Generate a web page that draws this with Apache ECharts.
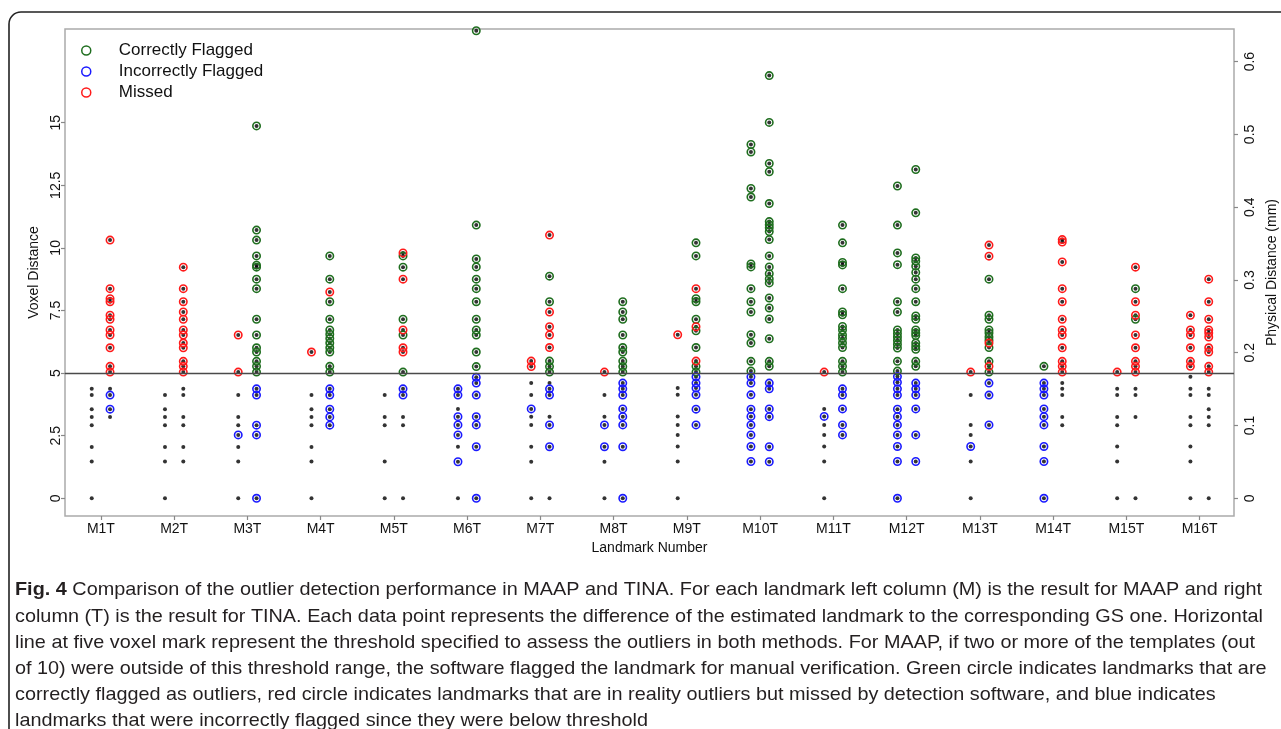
<!DOCTYPE html>
<html><head><meta charset="utf-8">
<script src="https://cdn.jsdelivr.net/npm/echarts@6/dist/echarts.min.js"></script>
<style>html,body{margin:0;padding:0;background:#fff}#c{width:1281px;height:729px}</style>
</head><body><div id="c"></div><script>
// ---- categories / ticks ----
const categories = ['M1T','M2T','M3T','M4T','M5T','M6T','M7T','M8T','M9T','M10T','M11T','M12T','M13T','M14T','M15T','M16T'];
const voxelTicks = [0, 2.5, 5, 7.5, 10, 12.5, 15];
const mmTicks = [0, 0.1, 0.2, 0.3, 0.4, 0.5, 0.6];
const threshold = 5;
const mmPerVoxel = 0.03441;

// ---- MAAP (left column, M) values per landmark ----
const notFlaggedM = [
  [4.37,4.12,3.56,3.25,2.92,2.05,1.47,0],
  [4.12,3.56,3.25,2.92,2.05,1.47,0],
  [4.12,3.25,2.92,2.05,1.47,0],
  [4.12,3.56,3.25,2.92,2.05,1.47,0],
  [4.12,3.25,2.92,1.47,0],
  [3.57,2.06,0],
  [4.6,4.12,3.26,2.93,2.06,1.46,0],
  [4.12,3.26,1.46,0],
  [4.4,4.13,3.27,2.93,2.53,2.07,1.47,0],
  [],
  [3.57,2.93,2.53,2.07,1.47,0],
  [],
  [4.12,2.93,2.53,1.47,0],
  [],
  [4.37,4.12,3.25,2.92,2.07,1.47,0],
  [4.85,4.37,4.12,3.25,2.92,2.07,1.47,0]
];
const correctM = [
  [],[],[],[],[],[],[],[],[],
  [14.13,13.83,12.37,12.03,9.36,9.24,8.37,7.85,7.44,6.53,6.2,5.47,5.08],
  [],
  [12.47,10.91,9.8,9.33,7.85,7.44,6.72,6.58,6.44,6.3,6.15,6.0,5.47,5.08],
  [],
  [5.27],
  [],[]
];
const incorrectM = [
  [],[],
  [2.53],
  [],[],
  [4.37,4.12,3.26,2.93,2.53,1.46],
  [3.57],
  [2.93,2.06],
  [],
  [4.85,4.6,4.13,3.56,3.27,2.93,2.53,2.07,1.47],
  [3.27],
  [4.86,4.63,4.37,4.12,3.56,3.26,2.93,2.53,2.07,1.47,0],
  [2.07],
  [4.6,4.37,4.12,3.57,3.26,2.93,2.07,1.47,0],
  [],[]
];
const missedM = [
  [],[],
  [6.52,5.04],
  [5.84],
  [],[],
  [5.48,5.26],
  [5.04],
  [6.53],
  [],
  [5.04],
  [],
  [5.04],
  [],
  [5.04],
  [7.31,6.72,6.52,6.01,5.47,5.27]
];

// ---- TINA (right column, T) values per landmark ----
const notFlaggedT = [
  [4.37,3.25],
  [4.37,4.12,3.25,2.92,2.05,1.47],
  [],
  [],
  [3.25,2.92,0],
  [],
  [4.6,3.26,0],
  [],
  [],
  [],
  [],
  [],
  [],
  [4.6,4.37,4.12,3.25,2.92],
  [4.37,4.12,3.25,0],
  [4.37,4.12,3.56,3.25,2.92,0]
];
const correctT = [
  [],[],
  [14.87,10.71,10.31,9.68,9.31,9.23,8.75,8.37,7.15,6.52,6.01,5.84,5.47,5.27,5.04],
  [9.68,8.75,7.85,7.15,6.72,6.55,6.38,6.2,6.01,5.84,5.27,5.04],
  [9.68,9.23,7.15,6.52,5.04],
  [18.67,10.91,9.56,9.24,8.75,8.37,7.85,7.15,6.72,6.52,5.84,5.26],
  [8.87,7.85,5.48,5.26,5.04],
  [7.85,7.44,7.15,6.52,6.02,5.84,5.48,5.26,5.04],
  [10.2,9.68,7.97,7.85,7.15,6.69,6.02,5.27,5.04],
  [16.88,15.01,13.37,13.04,11.77,11.05,10.92,10.8,10.65,10.33,9.68,9.24,8.97,8.76,8.6,8.0,7.6,7.16,6.37,5.47,5.27],
  [10.91,10.2,9.42,9.32,8.37,7.44,7.33,6.86,6.72,6.52,6.38,6.2,6.02,5.47,5.27,5.04],
  [13.13,11.4,9.6,9.47,9.27,9.02,8.75,8.37,7.85,7.28,7.15,6.72,6.6,6.5,6.2,6.07,5.95,5.47,5.27],
  [8.75,7.31,7.15,6.72,6.6,6.44,6.31,6.02,5.47,5.04],
  [],
  [8.37,7.15],
  []
];
const incorrectT = [
  [4.12,3.56],
  [],
  [4.37,4.12,2.92,2.53,0],
  [4.37,4.12,3.56,3.25,2.92],
  [4.37,4.12],
  [4.83,4.6,4.12,3.26,2.93,2.06,0],
  [4.37,4.12,2.93,2.06],
  [4.6,4.37,4.12,3.57,3.26,2.93,2.06,0],
  [4.85,4.6,4.4,4.13,3.56,2.93],
  [4.6,4.37,3.57,3.26,2.06,1.46],
  [4.37,4.12,3.57,2.93,2.53],
  [4.6,4.37,4.12,3.57,2.53,1.47],
  [4.6,4.12,2.93],
  [],[],[]
];
const missedT = [
  [10.31,8.37,7.97,7.85,7.31,7.15,6.72,6.52,6.01,5.27,5.04],
  [9.23,8.37,7.85,7.44,7.15,6.72,6.52,6.2,6.01,5.47,5.27,5.04],
  [],
  [8.24],
  [9.8,8.75,6.72,6.01,5.84],
  [],
  [10.51,7.44,6.85,6.52,6.02],
  [],
  [8.37,6.85,5.48],
  [],
  [],
  [],
  [10.11,9.67,6.2,5.27],
  [10.33,10.23,9.44,8.37,7.85,7.15,6.72,6.52,6.01,5.47,5.27,5.04],
  [9.23,7.85,7.31,6.52,6.01,5.47,5.27,5.04],
  [8.75,7.85,7.15,6.72,6.6,6.44,6.01,5.84,5.27,5.04]
];

const captionLines = [
  'Comparison of the outlier detection performance in MAAP and TINA. For each landmark left column (M) is the result for MAAP and right',
  'column (T) is the result for TINA. Each data point represents the difference of the estimated landmark to the corresponding GS one. Horizontal',
  'line at five voxel mark represent the threshold specified to assess the outliers in both methods. For MAAP, if two or more of the templates (out',
  'of 10) were outside of this threshold range, the software flagged the landmark for manual verification. Green circle indicates landmarks that are',
  'correctly flagged as outliers, red circle indicates landmarks that are in reality outliers but missed by detection software, and blue indicates',
  'landmarks that were incorrectly flagged since they were below threshold'
];
const captionLabel = 'Fig. 4';

// ---- styling ----
const GREEN = '#1f6e1f', BLUE = '#1a1aff', RED = '#ff1a1a';
const FONT = '"Liberation Sans", Arial, sans-serif';
const CAP_FONT = '"Liberation Sans", sans-serif';
const M_OFF = -0.125, T_OFF = 0.125;

function pts(arr, off) {
  const out = [];
  arr.forEach((vals, i) => vals.forEach(v => out.push([i + 1 + off, v])));
  return out;
}
const greenData = pts(correctM, M_OFF).concat(pts(correctT, T_OFF));
const blueData = pts(incorrectM, M_OFF).concat(pts(incorrectT, T_OFF));
const redData = pts(missedM, M_OFF).concat(pts(missedT, T_OFF));
const blackData = pts(notFlaggedM, M_OFF).concat(pts(notFlaggedT, T_OFF), greenData, blueData, redData);

const yMin = -0.707, yMax = 18.74;

const chart = echarts.init(document.getElementById('c'), null, {renderer: 'canvas'});

function ring(name, color, data) {
  return {
    name, type: 'scatter', data, symbol: 'circle', symbolSize: 7.4, clip: false, z: 3,
    itemStyle: {color: 'rgba(0,0,0,0)', borderColor: color, borderWidth: 1.6, opacity: 1},
    emphasis: {disabled: true}, silent: true
  };
}

// caption measurement to fit width
const mctx = document.createElement('canvas').getContext('2d');
const CAP_SIZE = 19;
mctx.font = 'bold ' + CAP_SIZE + 'px ' + CAP_FONT;
const wBold = mctx.measureText(captionLabel).width;
mctx.font = CAP_SIZE + 'px ' + CAP_FONT;
const wLine1 = wBold + mctx.measureText(' ' + captionLines[0]).width;
const capScale = (1262 - 15) / wLine1;
const capY = [590, 616.5, 642.5, 668.5, 694.5, 720.5];

const graphics = [
  {type: 'rect', shape: {x: 9, y: 12, width: 1400, height: 900, r: 12},
   style: {fill: 'none', stroke: '#222', lineWidth: 1.6}, silent: true, z: 0}
];
captionLines.forEach((t, i) => {
  graphics.push({
    type: 'text', x: 15, y: capY[i], scaleX: capScale, silent: true,
    style: {
      text: i === 0 ? '{b|' + captionLabel + '} ' + t : t,
      font: CAP_SIZE + 'px ' + CAP_FONT, fill: '#231f20', textVerticalAlign: 'middle',
      rich: {b: {fontWeight: 'bold', fontSize: CAP_SIZE, fontFamily: CAP_FONT, fill: '#231f20', color: '#231f20'}}
    }
  });
});

const option = {
  animation: false,
  backgroundColor: '#fff',
  grid: {left: 65, right: 47, top: 29, bottom: 213, show: true, borderColor: '#ababab', borderWidth: 1.5,
    containLabel: false, outerBoundsMode: 'none'},
  legend: {
    orient: 'vertical', left: 81, top: 42, padding: 0, itemWidth: 9, itemHeight: 9, itemGap: 4,
    selectedMode: false,
    textStyle: {fontSize: 17, fontFamily: FONT, color: '#111', padding: [0, 0, 0, 23], lineHeight: 17},
    data: [
      {name: 'Correctly Flagged', icon: 'circle', itemStyle: {color: 'rgba(0,0,0,0)', borderColor: GREEN, borderWidth: 1.5}},
      {name: 'Incorrectly Flagged', icon: 'circle', itemStyle: {color: 'rgba(0,0,0,0)', borderColor: BLUE, borderWidth: 1.5}},
      {name: 'Missed', icon: 'circle', itemStyle: {color: 'rgba(0,0,0,0)', borderColor: RED, borderWidth: 1.5}}
    ]
  },
  xAxis: {
    type: 'value', min: 0.51, max: 16.47, position: 'bottom',
    name: 'Landmark Number', nameLocation: 'middle', nameGap: 25,
    nameTextStyle: {fontSize: 14, fontFamily: FONT, color: '#111'},
    axisLine: {show: false, onZero: false}, splitLine: {show: false},
    axisTick: {show: true, length: 4, customValues: categories.map((c, i) => i + 1), lineStyle: {color: '#888', width: 1.2}},
    axisLabel: {customValues: categories.map((c, i) => i + 1), formatter: v => categories[Math.round(v) - 1],
      fontSize: 14, fontFamily: FONT, color: '#111', margin: 6}
  },
  yAxis: [
    {
      type: 'value', min: yMin, max: yMax, position: 'left',
      name: 'Voxel Distance', nameLocation: 'middle', nameGap: 22, nameRotate: 90,
      nameTextStyle: {fontSize: 14, fontFamily: FONT, color: '#111'},
      axisLine: {show: false, onZero: false}, splitLine: {show: false},
      axisTick: {show: true, length: 4, customValues: voxelTicks, lineStyle: {color: '#888', width: 1.2}},
      axisLabel: {customValues: voxelTicks, rotate: 90, formatter: v => String(v),
        fontSize: 14, fontFamily: FONT, color: '#111', margin: 2}
    },
    {
      type: 'value', min: yMin * mmPerVoxel, max: yMax * mmPerVoxel, position: 'right',
      name: 'Physical Distance (mm)', nameLocation: 'middle', nameGap: 27, nameRotate: 90,
      nameTextStyle: {fontSize: 14, fontFamily: FONT, color: '#111'},
      axisLine: {show: false, onZero: false}, splitLine: {show: false},
      axisTick: {show: true, length: 4, customValues: mmTicks, lineStyle: {color: '#888', width: 1.2}},
      axisLabel: {customValues: mmTicks, rotate: 90, formatter: v => String(Math.round(v * 10) / 10),
        fontSize: 14, fontFamily: FONT, color: '#111', margin: 9}
    }
  ],
  series: [
    {
      name: 'points', type: 'scatter', data: blackData, symbol: 'circle', symbolSize: 4, clip: false, z: 2,
      itemStyle: {color: '#000'}, silent: true,
      markLine: {silent: true, symbol: 'none', label: {show: false},
        lineStyle: {color: '#4a4a4a', width: 1.3, type: 'solid'},
        data: [{yAxis: threshold}]}
    },
    ring('Correctly Flagged', GREEN, greenData),
    ring('Incorrectly Flagged', BLUE, blueData),
    ring('Missed', RED, redData)
  ],
  graphic: graphics
};
chart.setOption(option);
</script></body></html>
